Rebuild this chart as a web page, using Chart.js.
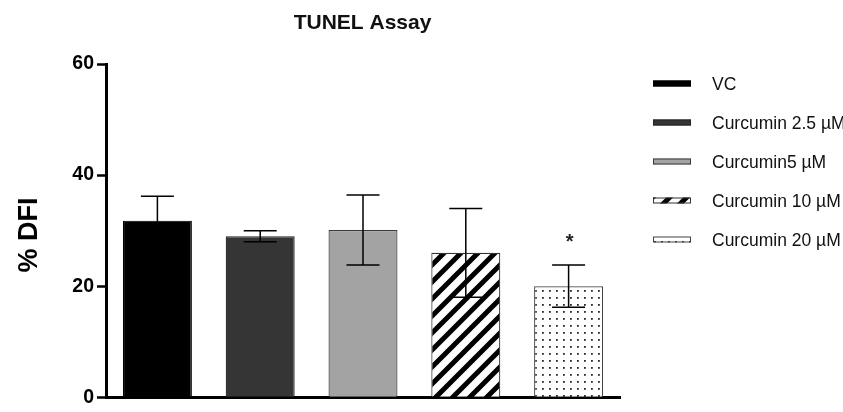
<!DOCTYPE html>
<html>
<head>
<meta charset="utf-8">
<script src="https://cdn.jsdelivr.net/npm/chart.js@4.4.1/dist/chart.umd.min.js"></script>
<style>
  html, body { margin: 0; padding: 0; background: #fff; }
  canvas { display: block; }
</style>
</head>
<body>
<canvas id="c" width="843" height="412"></canvas>
<script>
// Treatment groups and their % DFI (mean ± SD)
const groups = ['VC', 'Curcumin 2.5 µM', 'Curcumin5 µM', 'Curcumin 10 µM', 'Curcumin 20 µM'];
const dfiMean = [31.8, 29.0, 30.1, 26.0, 20.0];
const dfiSD = [4.4, 1.0, 6.3, 8.0, 3.8];
const significant = [false, false, false, false, true];
const yTicks = [0, 20, 40, 60];

const FONT = "'Liberation Sans', Arial, Helvetica, sans-serif";

// Diagonal black stripes on white
function stripePattern() {
  const s = 17;
  const c = document.createElement('canvas');
  c.width = s; c.height = s;
  const g = c.getContext('2d');
  g.fillStyle = '#fff';
  g.fillRect(0, 0, s, s);
  g.strokeStyle = '#000';
  g.lineWidth = 5;
  g.beginPath();
  for (const o of [-s, 0, s]) {
    g.moveTo(o - 2, s + 2);
    g.lineTo(o + s + 2, -2);
  }
  g.stroke();
  return g.createPattern(c, 'repeat');
}

// Fine dot grid on white
function dotPattern() {
  const s = 7;
  const c = document.createElement('canvas');
  c.width = s; c.height = s;
  const g = c.getContext('2d');
  g.fillStyle = '#fff';
  g.fillRect(0, 0, s, s);
  g.fillStyle = '#2a2a2a';
  g.fillRect(3, 3, 1.8, 1.8);
  return g.createPattern(c, 'repeat');
}

const fills = ['#000000', '#353535', '#a3a3a3', stripePattern(), dotPattern()];
const outlines = ['#000000', '#222222', '#3a3a3a', '#333333', '#444444'];

// Error bars (± SD) and significance marks
const errorBarPlugin = {
  id: 'errorBars',
  afterDatasetsDraw(chart) {
    const { ctx, scales: { y } } = chart;
    const meta = chart.getDatasetMeta(0);
    ctx.save();
    ctx.strokeStyle = '#000';
    ctx.lineWidth = 1.5;
    meta.data.forEach((bar, i) => {
      const x = bar.x;
      const hi = y.getPixelForValue(dfiMean[i] + dfiSD[i]);
      const lo = y.getPixelForValue(dfiMean[i] - dfiSD[i]);
      const cap = 16.5;
      ctx.beginPath();
      ctx.moveTo(x, hi); ctx.lineTo(x, lo);
      ctx.moveTo(x - cap, hi); ctx.lineTo(x + cap, hi);
      ctx.moveTo(x - cap, lo); ctx.lineTo(x + cap, lo);
      ctx.stroke();
      if (significant[i]) {
        ctx.fillStyle = '#222';
        ctx.font = `bold 20px ${FONT}`;
        ctx.textAlign = 'center';
        ctx.textBaseline = 'alphabetic';
        ctx.fillText('*', x + 1, hi - 17);
      }
    });
    ctx.restore();
  }
};

// Chart title, axis title and group key
const decorPlugin = {
  id: 'decor',
  afterDraw(chart) {
    const { ctx } = chart;
    ctx.save();
    ctx.fillStyle = '#111';
    ctx.textAlign = 'center';
    ctx.textBaseline = 'alphabetic';
    ctx.font = `bold 21px ${FONT}`;
    ctx.fillText('TUNEL Assay', 362.5, 28.5);

    ctx.save();
    ctx.translate(37, 235);
    ctx.rotate(-Math.PI / 2);
    ctx.font = `bold 27px ${FONT}`;
    ctx.fillStyle = '#000';
    ctx.fillText('% DFI', 0, 0);
    ctx.restore();

    const keyX = 653, keyW = 38, keyH = 6, rowStart = 83.5, rowStep = 39;
    ctx.textAlign = 'left';
    ctx.font = `17.5px ${FONT}`;
    groups.forEach((name, i) => {
      const cy = rowStart + i * rowStep;
      ctx.fillStyle = fills[i];
      ctx.fillRect(keyX, cy - keyH / 2, keyW, keyH);
      ctx.strokeStyle = outlines[i];
      ctx.lineWidth = 1;
      ctx.strokeRect(keyX + 0.5, cy - keyH / 2 + 0.5, keyW - 1, keyH - 1);
      ctx.fillStyle = '#111';
      ctx.fillText(name, 712, cy + 6.3);
    });
    ctx.restore();
  }
};

new Chart(document.getElementById('c'), {
  type: 'bar',
  data: {
    labels: groups,
    datasets: [{
      label: '% DFI',
      data: dfiMean,
      backgroundColor: fills,
      borderColor: outlines,
      borderWidth: 1.2,
      barPercentage: 0.671,
      categoryPercentage: 1
    }]
  },
  options: {
    responsive: false,
    animation: false,
    layout: { padding: { left: 0, right: 223, top: 64, bottom: 6.5 } },
    plugins: {
      legend: { display: false },
      tooltip: { enabled: false },
      title: { display: false }
    },
    scales: {
      x: {
        grid: { display: false, drawTicks: false },
        ticks: { display: false },
        border: { display: true, color: '#000', width: 3 },
        afterFit(s) { s.height = 0; }
      },
      y: {
        min: 0,
        max: 60,
        afterBuildTicks(s) { s.ticks = yTicks.map(v => ({ value: v })); },
        grid: { drawOnChartArea: false, drawTicks: true, tickLength: 9, tickWidth: 2.5, tickColor: '#000' },
        border: { display: true, color: '#000', width: 3 },
        ticks: { color: '#000', padding: 3, font: { family: FONT, size: 19.5, weight: 'bold' } },
        afterFit(s) { s.width = 106; }
      }
    }
  },
  plugins: [errorBarPlugin, decorPlugin]
});
</script>
</body>
</html>
